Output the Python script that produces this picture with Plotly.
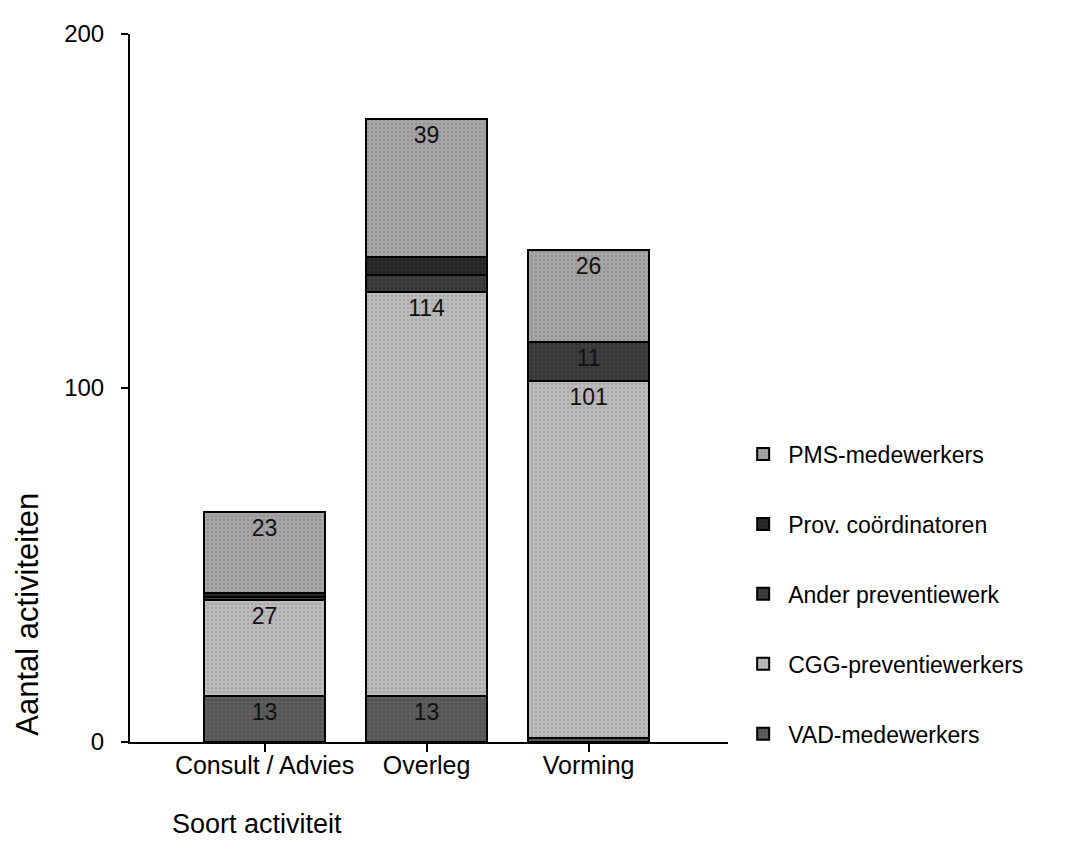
import plotly.graph_objects as go

categories = ["Consult / Advies", "Overleg", "Vorming"]

vad = [13, 13, 1]
cgg = [27, 114, 101]
ander = [1, 5, 11]
prov = [1, 5, 0]
pms = [23, 39, 26]

vad_text = ["13", "13", ""]
cgg_text = ["27", "114", "101"]
ander_text = ["", "", "11"]
prov_text = ["", "", ""]
pms_text = ["23", "39", "26"]

# name, values, labels, fill, texture colour, legend rank
series = [
    ("VAD-medewerkers", vad, vad_text, "#5e5e5e", "#3a3a3a", 5),
    ("CGG-preventiewerkers", cgg, cgg_text, "#bcbcbc", "#8a8a8a", 4),
    ("Ander preventiewerk", ander, ander_text, "#3e3e3e", "#1e1e1e", 3),
    ("Prov. coördinatoren", prov, prov_text, "#2a2a2a", "#111111", 2),
    ("PMS-medewerkers", pms, pms_text, "#a6a6a6", "#777777", 1),
]

fig = go.Figure()
for name, vals, txt, col, fg, rank in series:
    fig.add_trace(go.Bar(
        x=categories, y=vals, name=name, legendgroup=name, legendrank=rank,
        text=txt, textposition="inside", insidetextanchor="end",
        textfont=dict(family="Liberation Sans, Arial", size=23, color="#111111"),
        marker=dict(color=col, line=dict(color="black", width=2),
                    pattern=dict(shape=".", size=4, solidity=0.25,
                                 fgcolor=fg, fillmode="overlay")),
        width=0.75,
    ))

# page has an 8px body margin, so margins are shifted by 8px
fig.update_layout(
    barmode="stack",
    width=1071, height=864,
    margin=dict(l=122, r=351, t=18, b=130),
    plot_bgcolor="white", paper_bgcolor="white",
    font=dict(family="Liberation Sans, Arial", size=24, color="black"),
    uniformtext=dict(mode="show", minsize=10),
    legend=dict(
        x=1.017, y=0.437, xanchor="left", yanchor="top",
        traceorder="grouped", tracegroupgap=37,
        font=dict(size=23), itemwidth=40,
    ),
    xaxis=dict(
        range=[-0.83, 2.86], showline=True, linecolor="black", linewidth=2,
        ticks="outside", ticklen=8, tickwidth=2, tickcolor="black",
        tickfont=dict(size=25), ticklabelstandoff=-8,
        showgrid=False, zeroline=False,
    ),
    yaxis=dict(
        range=[0, 200], tickvals=[0, 100, 200], showline=True,
        linecolor="black", linewidth=2, ticks="outside", ticklen=7,
        tickwidth=2, tickcolor="black", tickfont=dict(size=24),
        ticklabelstandoff=12, showgrid=False, zeroline=False,
    ),
    annotations=[
        dict(text="Aantal activiteiten", xref="paper", yref="paper",
             x=-0.172, y=0.18, textangle=-90, showarrow=False,
             font=dict(size=31), xanchor="center", yanchor="middle"),
        dict(text="Soort activiteit", xref="paper", yref="paper",
             x=0.067, y=-0.1165, showarrow=False, font=dict(size=27),
             xanchor="left", yanchor="middle"),
    ],
)

fig.write_html("out.html")
